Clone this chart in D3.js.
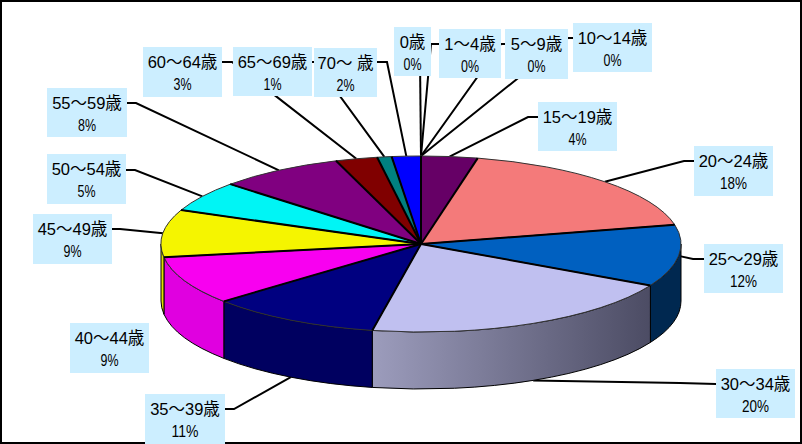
<!DOCTYPE html>
<html>
<head>
<meta charset="utf-8">
<title>年齢別 円グラフ</title>
<script src="https://d3js.org/d3.v7.min.js"></script>
<style>
    html, body { margin: 0; padding: 0; background: #fff; }
    svg { display: block; }
    text { font-family: "Liberation Sans", "Noto Sans CJK JP", sans-serif; fill: #000; text-anchor: middle; }
</style>
</head>
<body>
<svg id="chart" width="802" height="444"></svg>
<script>
    // data
    var categories = ['0歳', '1〜4歳', '5〜9歳', '10〜14歳', '15〜19歳', '20〜24歳', '25〜29歳', '30〜34歳',
        '35〜39歳', '40〜44歳', '45〜49歳', '50〜54歳', '55〜59歳', '60〜64歳', '65〜69歳', '70〜 歳'];
    var values = [0, 0, 0, 0, 3.5, 18, 11.3, 20.2, 10.7, 8.9, 8.7, 5.6, 7.8, 2.6, 0.9, 1.8];
    var percentLabels = ['0%', '0%', '0%', '0%', '4%', '18%', '12%', '20%', '11%', '9%', '9%', '5%', '8%', '3%', '1%', '2%'];

    var topColors = ['#0000ff', '#ff0000', '#00ff00', '#ffff00', '#660066', '#f47a7a', '#0060c0', '#c0c0f0',
        '#000080', '#f800f0', '#f5f500', '#00f5f5', '#800080', '#800000', '#008080', '#0000ff'];
    var sideColors = ['#000', '#000', '#000', '#000', '#400040', '#a05050', '#002850', 'url(#wall)',
        '#000060', '#e000e0', '#e0e000', '#00c0c0', '#500050', '#500000', '#005050', '#000090'];

    // label boxes: x, y, w, h
    var boxes = [[394, 27, 37, 49], [439, 29, 62, 49], [505, 29, 63, 50], [573, 23, 79, 49],
        [538, 102, 79, 49], [694, 146, 79, 50], [704, 244, 79, 49], [716, 369, 79, 49],
        [145, 394, 80, 50], [70, 323, 79, 50], [33, 214, 79, 50], [47, 154, 79, 50],
        [47, 88, 80, 49], [143, 47, 79, 50], [233, 47, 79, 49], [314, 48, 63, 49]];
    // leader start and elbow, null where the chart shows no line
    var leaders = [[[420, 60], [420, 60]], [[439, 44], [431, 44]], [[505, 44], [501, 44]], [[573, 38], [568, 38]],
        [[538, 117], [528, 117]], [[694, 161], [684, 161]], [[704, 259], [693, 259]], [[716, 384], [680, 383]],
        [[225, 409], [234, 409]], null, [[112, 229], [120, 229]], [[126, 170], [135, 170]],
        [[127, 103], [136, 103]], [[222, 62], [232, 62]], [[312, 62], [315, 62]], [[377, 62], [387, 62]]];

    var cx = 421, cy = 244, rx = 260, ry = 88, depth = 57;
    var svg = d3.select('#chart');

    var grad = svg.append('defs').append('linearGradient').attr('id', 'wall')
        .attr('gradientUnits', 'userSpaceOnUse')
        .attr('x1', 373).attr('x2', 650).attr('y1', 0).attr('y2', 0);
    grad.append('stop').attr('offset', 0).attr('stop-color', '#9c9cbc');
    grad.append('stop').attr('offset', 1).attr('stop-color', '#4c4c64');

    // frame
    svg.append('rect').attr('x', 1).attr('y', 1).attr('width', 800).attr('height', 442)
        .attr('fill', '#fff').attr('stroke', '#000').attr('stroke-width', 2);

    var pie = d3.pie().sort(null).value(function (d) { return d; });
    var slices = pie(values);
    var arc = d3.arc().innerRadius(0).outerRadius(rx);

    function pointAt(angle, drop) {
        return [cx + rx * Math.sin(angle), cy - ry * Math.cos(angle) + (drop || 0)];
    }
    function midAngle(d) { return (d.startAngle + d.endAngle) / 2; }

    // leaders go under the pie
    var line = d3.line();
    svg.append('g').selectAll('path')
        .data(slices.filter(function (d, i) { return leaders[i]; }))
        .join('path')
        .attr('fill', 'none').attr('stroke', '#000').attr('stroke-width', 2)
        .attr('d', function (d) {
            var drop = midAngle(d) > Math.PI * 0.75 && midAngle(d) < Math.PI * 1.5 ? depth : 0;
            var l = leaders[d.index];
            return line([l[0], l[1], pointAt(midAngle(d), drop)]);
        });

    // walls on the front half of the rim
    var walls = svg.append('g');
    slices.forEach(function (d, i) {
        var a0 = Math.max(d.startAngle, Math.PI / 2), a1 = Math.min(d.endAngle, Math.PI * 1.5);
        if (a1 <= a0) return;
        var p0 = pointAt(a0), p1 = pointAt(a1), p2 = pointAt(a1, depth), p3 = pointAt(a0, depth);
        walls.append('path')
            .attr('fill', sideColors[i]).attr('stroke', '#000').attr('stroke-width', 1)
            .attr('d', 'M' + p0 + 'A' + rx + ',' + ry + ' 0 0 1 ' + p1 + 'L' + p2 +
                'A' + rx + ',' + ry + ' 0 0 0 ' + p3 + 'Z');
    });

    // top faces, squashed circle
    var shown = slices.filter(function (d) { return d.value > 0; });
    svg.append('g').attr('transform', 'translate(' + cx + ',' + cy + ') scale(1,' + (ry / rx) + ')')
        .selectAll('path').data(shown)
        .join('path')
        .attr('d', arc)
        .attr('fill', function (d) { return topColors[d.index]; })
        .attr('stroke', '#333').attr('stroke-width', 1)
        .attr('vector-effect', 'non-scaling-stroke');

    // heavier dividers between the slices
    svg.append('g').selectAll('path').data(shown).join('path')
        .attr('stroke', '#000').attr('stroke-width', 2)
        .attr('d', function (d) { return line([[cx, cy], pointAt(d.startAngle)]); });

    // label boxes
    var labels = svg.append('g').selectAll('g').data(categories).join('g')
        .attr('transform', function (d, i) { return 'translate(' + boxes[i][0] + ',' + boxes[i][1] + ')'; });
    labels.append('rect')
        .attr('width', function (d, i) { return boxes[i][2]; })
        .attr('height', function (d, i) { return boxes[i][3]; })
        .attr('fill', '#cceeff');
    labels.append('text')
        .attr('x', function (d, i) { return boxes[i][2] / 2; }).attr('y', 21)
        .attr('font-size', 16.5).text(function (d) { return d; });
    labels.append('text')
        .attr('x', function (d, i) { return boxes[i][2] / 2; }).attr('y', 43)
        .attr('font-size', 16.5)
        .attr('textLength', function (d, i) { return percentLabels[i].length * 9; })
        .attr('lengthAdjust', 'spacingAndGlyphs')
        .text(function (d, i) { return percentLabels[i]; });
</script>
</body>
</html>
